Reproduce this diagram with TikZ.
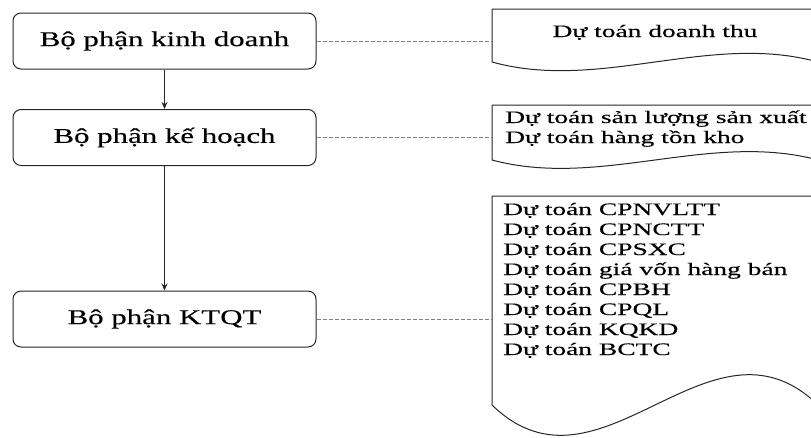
\documentclass[tikz,border=0pt]{standalone}
\usepackage{fontspec}
\setmainfont{Liberation Serif}
\newfontfamily\unitfont[FakeStretch=1.47,FakeBold=0.3]{Liberation Serif}
\newfontfamily\docfont[FakeStretch=1.57,FakeBold=0.3]{Liberation Serif}
\usetikzlibrary{arrows.meta}

\tikzset{
  unit/.style={draw=black!85,line width=1pt,rounded corners=8pt,
    minimum width=303pt,minimum height=56pt,
    font=\unitfont\fontsize{21}{25}\selectfont},
  docline/.style={draw=black!85,line width=1pt},
  link/.style={draw=gray,line width=1pt,dash pattern=on 4pt off 2pt},
  flow/.style={draw=black!85,line width=1pt,-{Stealth[length=7pt,width=6pt]}},
  doctext/.style={inner sep=0pt,font=\docfont\fontsize{17.5}{20}\selectfont}
}

\begin{document}
\begin{tikzpicture}[x=1pt,y=-1pt]
\useasboundingbox (0,0) rectangle (811,437);
% departments
\node[unit] (kd) at (164.5,41) {Bộ phận kinh doanh};
\node[unit] (kh) at (164.5,137.5) {Bộ phận kế hoạch};
\node[unit] (kt) at (164.5,319) {Bộ phận KTQT};
\draw[flow] (kd) -- (kh);
\draw[flow] (kh) -- (kt);
% documents
\draw[docline] (818,9) -- (492,9) -- (492,62) .. controls (600,92) and (710,32) .. (818,62);
\draw[docline] (818,105) -- (492,105) -- (492,160) .. controls (600,189) and (710,131) .. (818,160);
\draw[docline] (818,196) -- (492,196) -- (492,405) .. controls (600,510) and (710,300) .. (818,405);
\node[doctext,anchor=base] (dt) at (655,37) {Dự toán doanh thu};
\node[doctext,anchor=base west] (sl) at (505,123) {Dự toán sản lượng sản xuất};
\node[doctext,anchor=base west] (tk) at (505,143) {Dự toán hàng tồn kho};
\node[doctext,anchor=base west] (c1) at (503,215) {Dự toán CPNVLTT};
\node[doctext,anchor=base west] (c2) at (503,235) {Dự toán CPNCTT};
\node[doctext,anchor=base west] (c3) at (503,255) {Dự toán CPSXC};
\node[doctext,anchor=base west] (c4) at (503,275) {Dự toán giá vốn hàng bán};
\node[doctext,anchor=base west] (c5) at (503,295) {Dự toán CPBH};
\node[doctext,anchor=base west] (c6) at (503,315) {Dự toán CPQL};
\node[doctext,anchor=base west] (c7) at (503,335) {Dự toán KQKD};
\node[doctext,anchor=base west] (c8) at (503,355) {Dự toán BCTC};
% links to documents
\coordinate (e1) at (492,41);
\coordinate (e2) at (492,137.5);
\coordinate (e3) at (492,319);
\draw[link] (kd) -- (e1);
\draw[link] (kh) -- (e2);
\draw[link] (kt) -- (e3);
\end{tikzpicture}
\end{document}
